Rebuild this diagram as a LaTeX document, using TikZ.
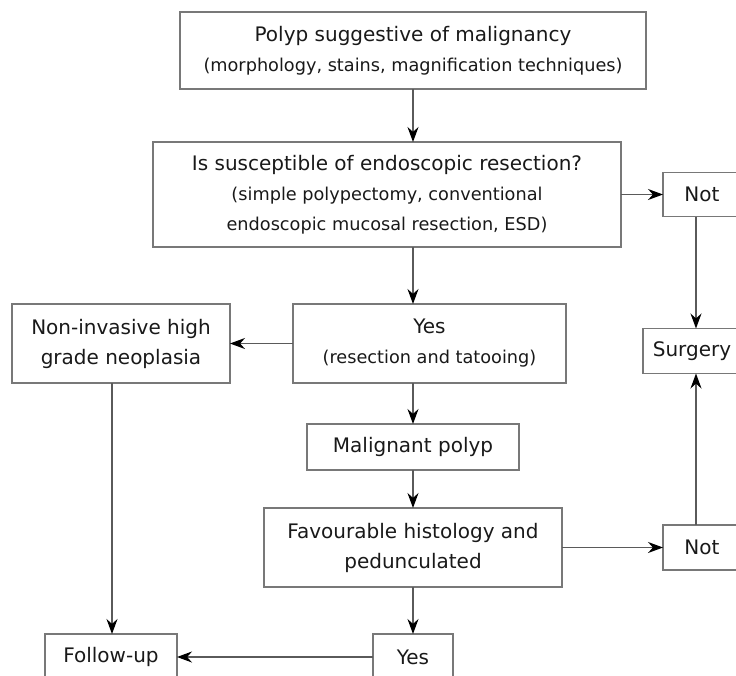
\documentclass[tikz,border=0pt]{standalone}
\usepackage{fontspec}
\setmainfont{DejaVu Sans}
\usetikzlibrary{arrows.meta,positioning}
\definecolor{polypFrame}{RGB}{120, 120, 120}
\definecolor{polypLine}{RGB}{90, 90, 90}
\definecolor{polypText}{RGB}{25, 25, 25}
\newcommand{\subtext}[1]{{\fontsize{8.85pt}{15pt}\selectfont #1}}

\begin{document}
\begin{tikzpicture}[
  box/.style={
    draw=polypFrame,
    line width=0.75pt,
    outer sep=0pt,
    inner sep=0pt,
    align=center,
    text=polypText,
    font=\fontsize{10pt}{15pt}\selectfont
  },
  arrow/.style={-{Stealth[length=7.5pt,width=5.5pt,color=black]},line width=0.6pt,polypLine}
]
  \path[use as bounding box,clip] (0,0) rectangle (368pt,-338pt);
  \node[box,minimum width=233pt,minimum height=38.5pt] (polyp) at (206.5pt,-25.25pt)
    {Polyp suggestive of malignancy\\\subtext{(morphology, stains, magnification techniques)}};
  \node[box,minimum width=234pt,minimum height=52.5pt,below=26.5pt of polyp,xshift=-13pt] (resectable)
    {Is susceptible of endoscopic resection?\\\subtext{(simple polypectomy, conventional}\\\subtext{endoscopic mucosal resection, ESD)}};
  \node[box,minimum width=39pt,minimum height=22pt,right=21pt of resectable] (notresect) {Not};
  \node[box,minimum width=136.5pt,minimum height=39.5pt,below=28.5pt of resectable,xshift=21.25pt] (yesresect)
    {Yes\\\subtext{(resection and tatooing)}};
  \node[box,minimum width=109pt,minimum height=39.5pt,left=31.5pt of yesresect] (noninvasive)
    {Non-invasive high\\grade neoplasia};
  \node[box,minimum width=106pt,minimum height=23pt,below=20.5pt of yesresect,xshift=-8.25pt] (malignant) {Malignant polyp};
  \node[box,minimum width=149pt,minimum height=39.5pt,below=19pt of malignant] (favourable)
    {Favourable histology and\\pedunculated};
  \node[box,minimum width=39pt,minimum height=22.5pt,right=50.5pt of favourable] (notfavour) {Not};
  \node[box,minimum width=40pt,minimum height=23pt,below=23.5pt of favourable] (yesfavour) {Yes};
  \node[box,minimum width=66pt,minimum height=23pt,left=98pt of yesfavour] (followup) {Follow-up};
  \node[box,minimum width=49pt,minimum height=22.5pt,below=56pt of notresect,xshift=-5pt] (surgery) {Surgery};
  \coordinate (surgline) at ([xshift=-3pt]notresect.south);
  \draw[arrow] (polyp.south) -- (polyp.south |- resectable.north);
  \draw[arrow] (resectable.east) -- (resectable.east -| notresect.west);
  \draw[arrow] (malignant.north |- resectable.south) -- (malignant.north |- yesresect.north);
  \draw[arrow] (yesresect.west) -- (noninvasive.east);
  \draw[arrow] (malignant.north |- yesresect.south) -- (malignant.north);
  \draw[arrow] (malignant.south) -- (favourable.north);
  \draw[arrow] (favourable.east) -- (favourable.east -| notfavour.west);
  \draw[arrow] (favourable.south) -- (yesfavour.north);
  \draw[arrow] (yesfavour.west) -- (yesfavour.west -| followup.east);
  \draw[arrow] ([xshift=0.5pt]followup.north |- noninvasive.south) -- ([xshift=0.5pt]followup.north);
  \draw[arrow] (surgline) -- (surgline |- surgery.north);
  \draw[arrow] (surgline |- notfavour.north) -- (surgline |- surgery.south);
\end{tikzpicture}
\end{document}
